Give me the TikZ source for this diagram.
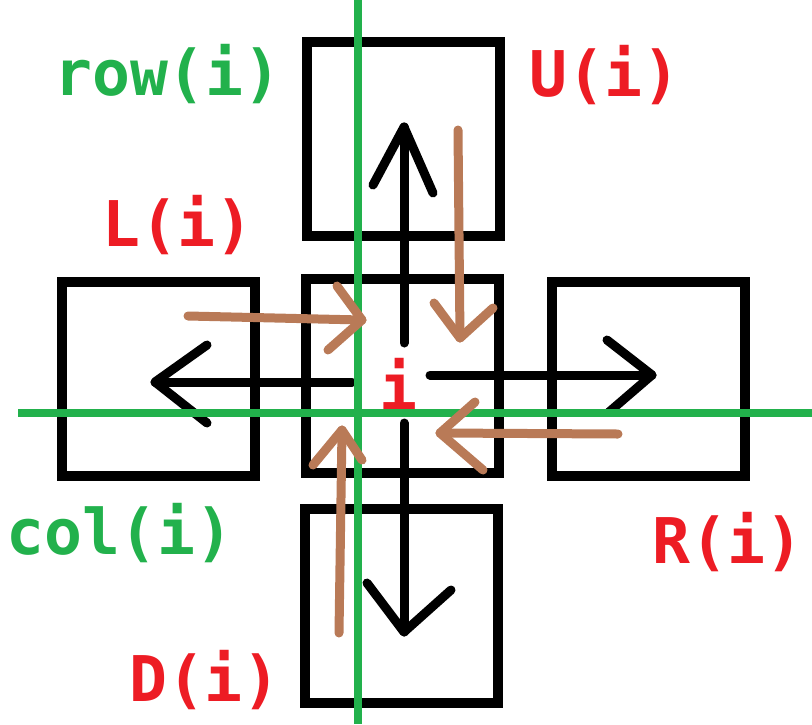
\documentclass[tikz,border=0pt]{standalone}
\usepackage{fontspec}
\newfontfamily\labfont{DejaVu Sans Mono}[BoldFont={DejaVu Sans Mono Bold}]
\definecolor{pgreen}{HTML}{22B14C}
\definecolor{pred}{HTML}{ED1C24}
\definecolor{pbrown}{HTML}{B97A57}
\begin{document}
\begin{tikzpicture}[x=1pt,y=-1pt,
  cell/.style={draw=black,line width=10pt,minimum width=193pt,minimum height=194pt,inner sep=0pt},
  blk/.style={draw=black,line width=9pt,line cap=round,line join=round},
  brn/.style={draw=pbrown,line width=9pt,line cap=round,line join=round},
  grn/.style={draw=pgreen,line width=8pt},
  lab/.style={inner sep=0pt,font=\labfont\bfseries\fontsize{63}{63}\selectfont},
  rlab/.style={lab,text=pred},
  glab/.style={lab,text=pgreen}]
\useasboundingbox (0,0) rectangle (812,724);
% cells
\node[cell] (U) at (403.5,139) {};
\node[cell] (C) at (402.5,376) {};
\node[cell] (L) at (158,378.5) {};
\node[cell] (R) at (648,378.5) {};
\node[cell] (D) at (401,605.5) {};
% black arrows
\draw[blk] (404,343) -- (404,127);
\draw[blk] (373,185) -- (404,127) -- (433,193);
\draw[blk] (352,382) -- (155,382);
\draw[blk] (207,345) -- (155,382) -- (207,423);
\draw[blk] (430,375) -- (652,375);
\draw[blk] (607,340) -- (652,375) -- (609,412);
\draw[blk] (404,423) -- (404,632);
\draw[blk] (367,583) -- (404,632) -- (451,590);
% green lines
\draw[grn] (358,0) -- (358,724);
\draw[grn] (18,413) -- (812,413);
% brown arrows
\draw[brn] (188,316) -- (362,320);
\draw[brn] (337,286) -- (362,320) -- (328,350);
\draw[brn] (458,130) -- (460,338);
\draw[brn] (434,303) -- (460,338) -- (493,308);
\draw[brn] (618,434) -- (440,433);
\draw[brn] (475,402) -- (440,433) -- (483,470);
\draw[brn] (339,633) -- (342,430);
\draw[brn] (313,465) -- (342,430) -- (362,460);
% labels
\node[glab] (rowl) at (168,74) {row(i)};
\node[rlab] (ul) at (605,75) {U(i)};
\node[rlab] (ll) at (178,225) {L(i)};
\node[rlab] (il) at (398,384) {i};
\node[glab] (coll) at (120,533) {col(i)};
\node[rlab] (rl) at (728,542) {R(i)};
\node[rlab] (dl) at (205,680) {D(i)};
\end{tikzpicture}
\end{document}
